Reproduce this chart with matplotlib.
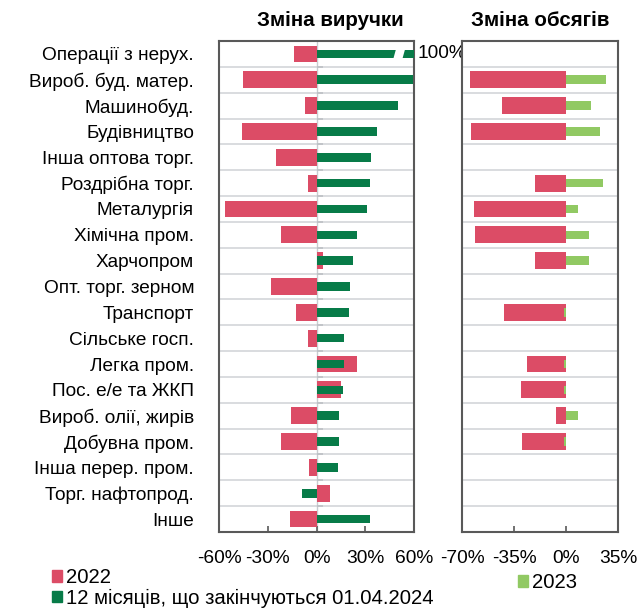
import numpy as np
import matplotlib
matplotlib.use("Agg")
import matplotlib.pyplot as plt
from matplotlib.patches import Patch, Polygon

plt.rcParams['font.family'] = ['Liberation Sans', 'DejaVu Sans']
plt.rcParams['font.size'] = 13.7

# --- DATA ---
sectors = ["Операції з нерух.", "Вироб. буд. матер.", "Машинобуд.", "Будівництво",
           "Інша оптова торг.", "Роздрібна торг.", "Металургія", "Хімічна пром.",
           "Харчопром", "Опт. торг. зерном", "Транспорт", "Сільське госп.",
           "Легка пром.", "Пос. е/е та ЖКП", "Вироб. олії, жирів", "Добувна пром.",
           "Інша перер. пром.", "Торг. нафтопрод.", "Інше"]

# revenue change, %
rev_2022 = [-14, -45, -7, -46, -25, -5.5, -56.5, -22, 4, -28, -12.5, -5.5,
            25, 15, -15.5, -22, -4.5, 8, -16.5]
rev_12m = [100, 59.5, 50, 37, 33.5, 33, 31, 25, 22.5, 20.5, 20, 17,
           17, 16.5, 14, 14, 13, -9, 33]

# volume change, %
nan = np.nan
vol_2022 = [nan, -64.5, -43, -64, nan, -21, -62, -61, -21, nan, -42, nan,
            -26, -30, -7, -29.5, nan, nan, nan]
vol_2023 = [nan, 27, 17, 23, nan, 25, 8, 15.5, 15.5, nan, -1.5, nan,
            -1.5, -1.5, 8, -1.5, nan, nan, nan]

rev_ticks = [-60, -30, 0, 30, 60]
vol_ticks = [-70, -35, 0, 35]

# --- STYLE ---
RED = '#DC4C66'
DKGREEN = '#077B48'
LTGREEN = '#91C963'
GRID = '#D3D6D9'
FRAME = '#595959'

W, H = 642, 608
fig = plt.figure(figsize=(W / 100, H / 100), dpi=100)
ax1 = fig.add_axes([219 / W, 1 - 532 / H, 195 / W, 491 / H])
ax2 = fig.add_axes([462 / W, 1 - 532 / H, 156 / W, 491 / H])

y = np.arange(len(sectors))

def style(ax, ticks, xlim):
    ax.set_xlim(*xlim)
    ax.set_ylim(len(sectors) - 0.5, -0.5)
    ax.hlines(np.arange(len(sectors) - 1) + 0.5, xlim[0], xlim[1],
              color=GRID, lw=1.2, zorder=0.5)
    ax.set_xticks(ticks)
    ax.set_xticklabels([f"{t}%" for t in ticks], fontsize=13.8)
    ax.tick_params(axis='x', direction='in', length=4, width=1.2,
                   color=FRAME, pad=13)
    ax.tick_params(axis='y', length=0)
    for s in ax.spines.values():
        s.set_color(FRAME)
        s.set_linewidth(1.5)

# revenue panel
style(ax1, rev_ticks, (-60, 60))
ax1.axvline(0, color='#C8CCD0', lw=1, zorder=0.6)
ax1.hlines(np.arange(len(sectors) - 1) + 0.5, 0, 4, color='#BCC0C4', lw=1.2, zorder=0.7)
ax1.barh(y, rev_2022, height=0.65, color=RED, zorder=2)
ax1.barh(y, rev_12m, height=0.33, color=DKGREEN, zorder=3)
ax1.set_yticks(y)
ax1.set_yticklabels(sectors)
ax1.tick_params(axis='y', pad=18)
# axis break on the off-scale bar
ax1.add_patch(Polygon([(47.0, 0.25), (52.6, 0.25), (54.8, -0.25), (49.2, -0.25)],
                      closed=True, facecolor='white', edgecolor='none', zorder=4))
ax1.text(62, 0, "100%", va='center', ha='left', clip_on=False)

# volume panel
style(ax2, vol_ticks, (-70, 35))
ax2.barh(y, vol_2022, height=0.65, color=RED, zorder=2)
ax2.barh(y, vol_2023, height=0.33, color=LTGREEN, zorder=3)
ax2.set_yticks([])

fig.text(330 / W, 1 - 20 / H, "Зміна виручки", ha='center', va='center',
         fontweight='bold', fontsize=14.8)
fig.text(540 / W, 1 - 20 / H, "Зміна обсягів", ha='center', va='center',
         fontweight='bold', fontsize=14.8)

fig.legend(handles=[Patch(color=RED, label='2022'),
                    Patch(color=DKGREEN, label='12 місяців, що закінчуються 01.04.2024')],
           loc='upper left', bbox_to_anchor=(52 / W, 1 - 568 / H), frameon=False,
           fontsize=14.6, handlelength=0.5, handleheight=0.5, handletextpad=0.2,
           labelspacing=0.08, borderpad=0, borderaxespad=0)
fig.legend(handles=[Patch(color=LTGREEN, label='2023')],
           loc='upper left', bbox_to_anchor=(518 / W, 1 - 573 / H), frameon=False,
           fontsize=14.6, handlelength=0.5, handleheight=0.5, handletextpad=0.2,
           borderpad=0, borderaxespad=0)

fig.savefig("out.png", dpi=100)
